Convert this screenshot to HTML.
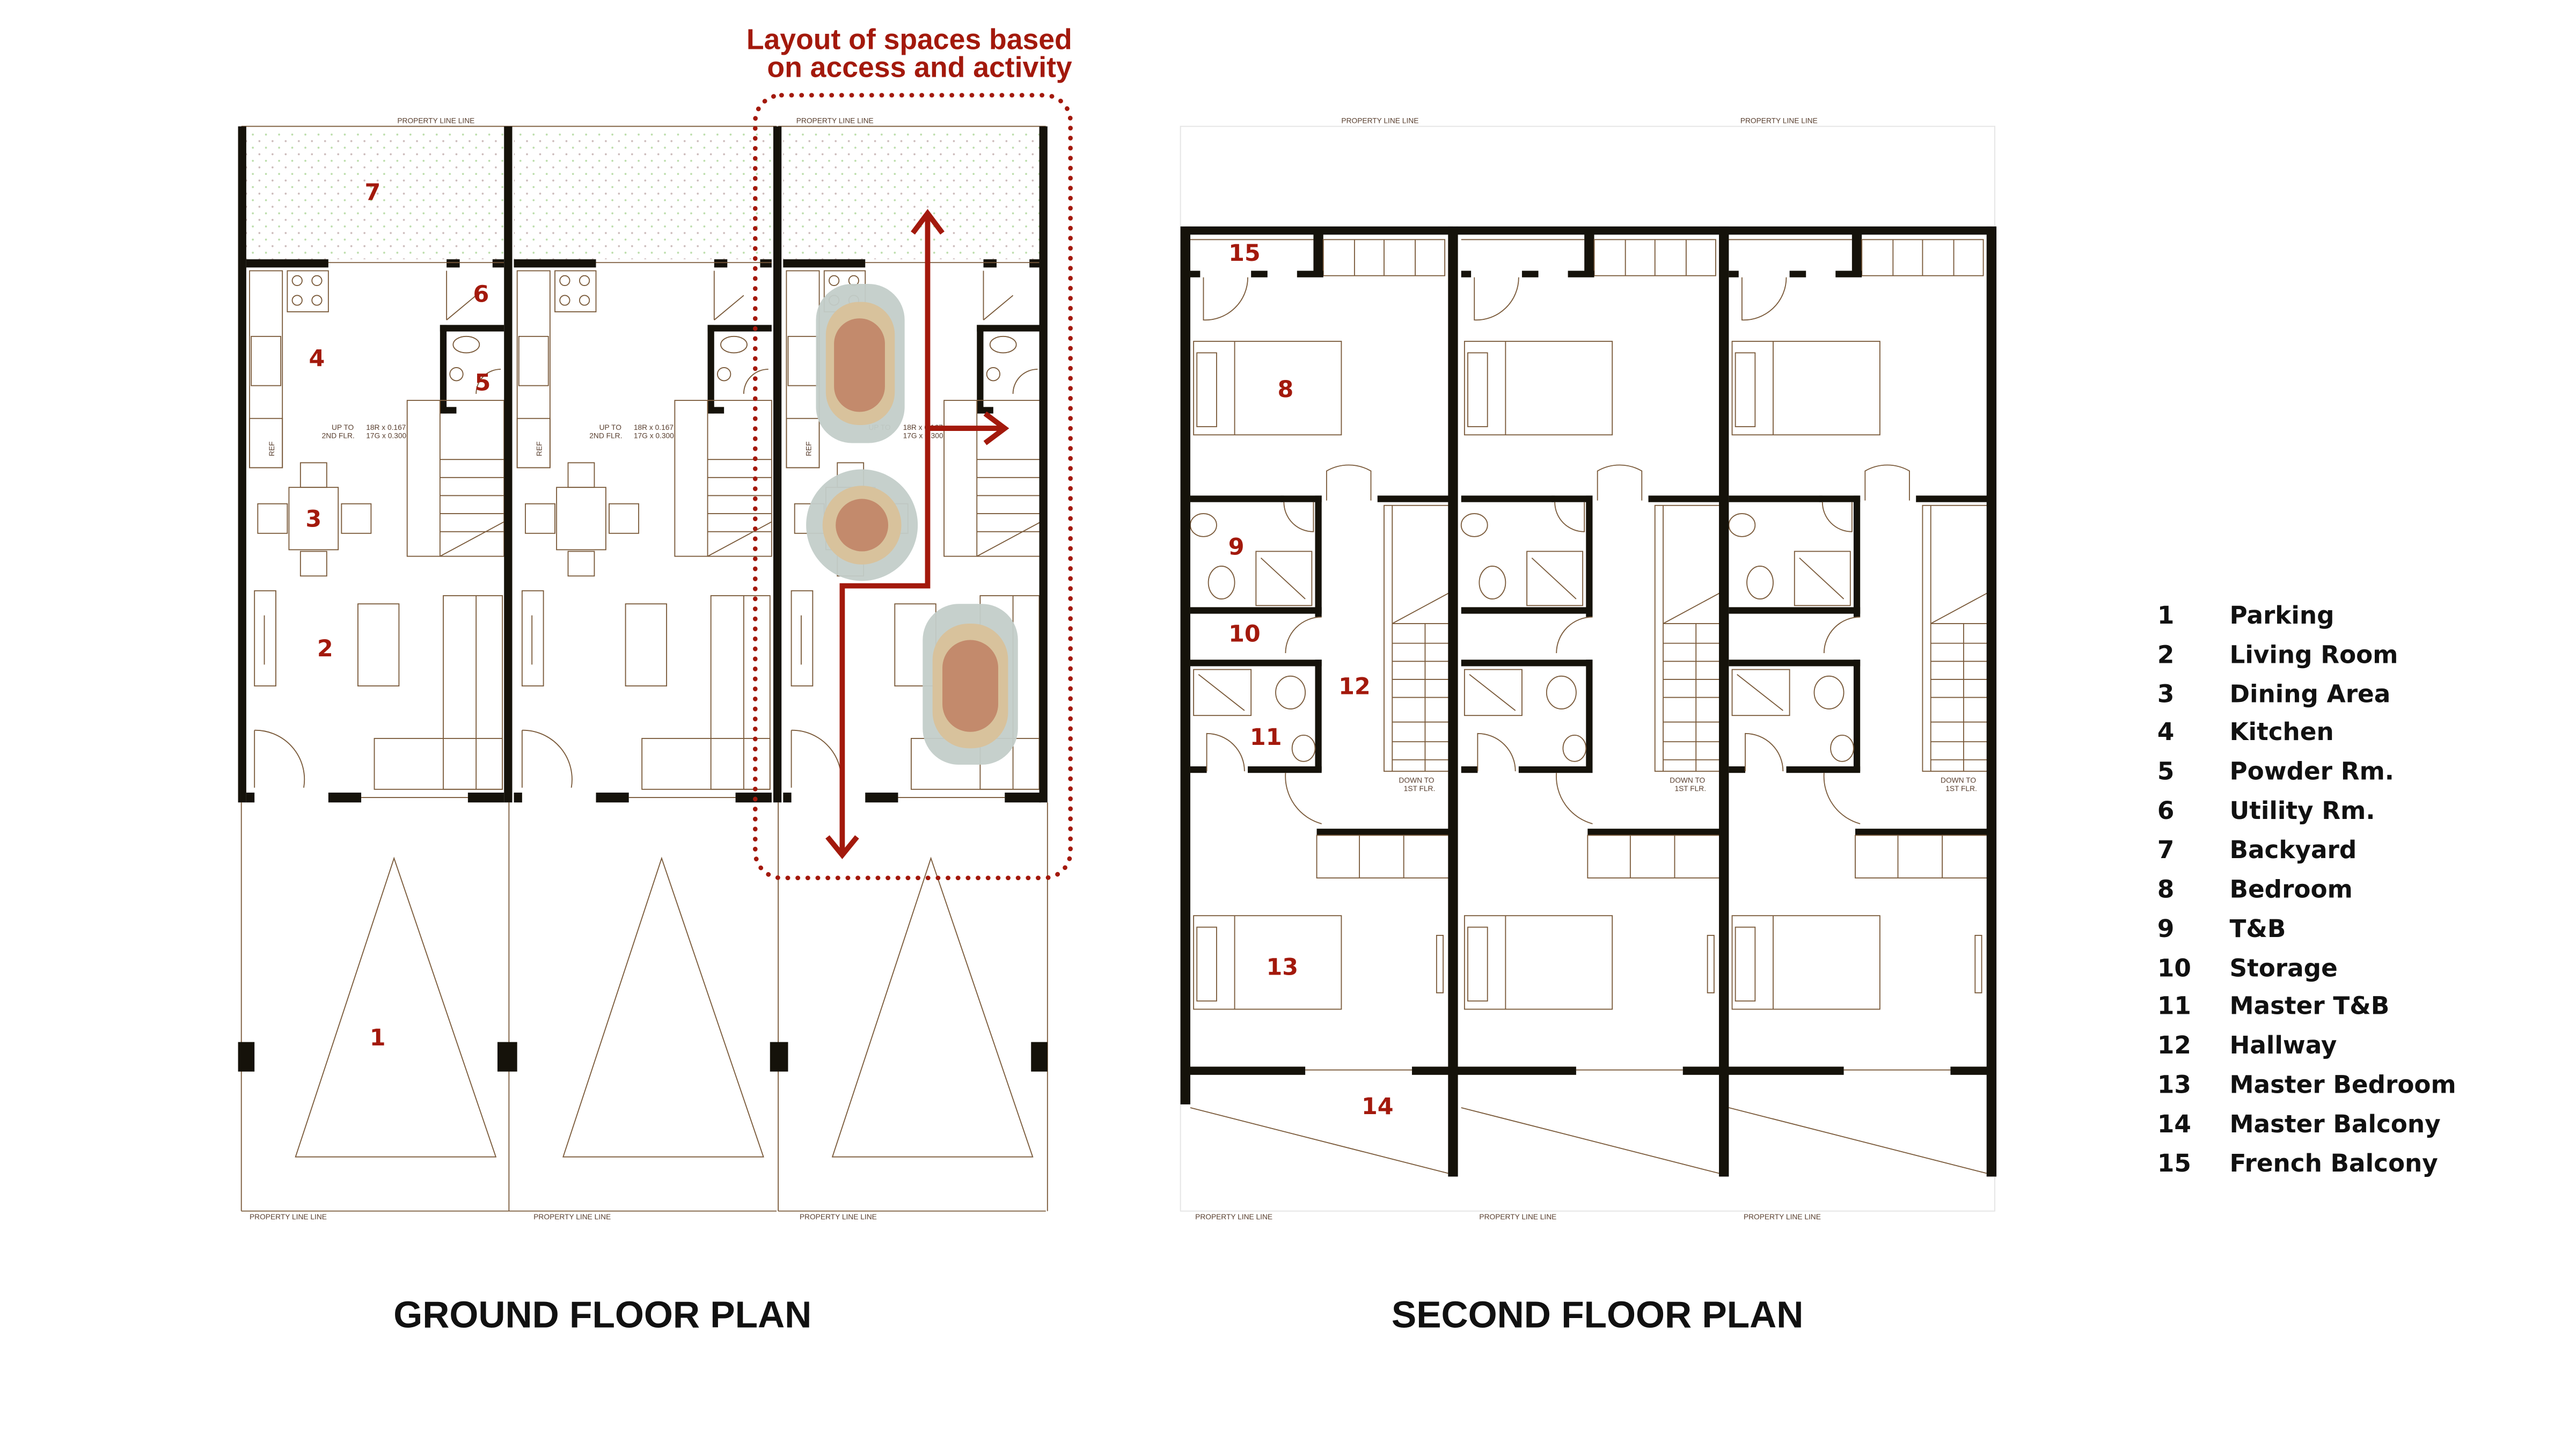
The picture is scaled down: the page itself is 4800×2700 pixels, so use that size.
<!DOCTYPE html>
<html><head><meta charset="utf-8"><style>
html,body{margin:0;padding:0;background:#fff;width:4800px;height:2700px;overflow:hidden}
svg{display:block}
.n{font-family:"DejaVu Sans","Liberation Sans",sans-serif;font-weight:bold;fill:#a3190c;font-size:14px;text-anchor:middle}
.lg{font-family:"DejaVu Sans","Liberation Sans",sans-serif;font-weight:bold;fill:#111;font-size:14.8px}
.t{font-family:"Liberation Sans",sans-serif;font-weight:bold;fill:#111;font-size:22.7px;text-anchor:middle}
.s{font-family:"Liberation Sans",sans-serif;fill:#5a4030;font-size:4.5px}
</style></head><body>
<svg width="4800" height="2700" viewBox="0 0 1569 883" preserveAspectRatio="none" xmlns="http://www.w3.org/2000/svg">
<defs>
<pattern id="dots" width="8" height="8" patternUnits="userSpaceOnUse"><circle cx="2" cy="2" r="0.6" fill="#bda"/><circle cx="6" cy="6" r="0.6" fill="#cbb"/></pattern>
<g id="gu" fill="none" stroke="#7a5a3a" stroke-width="0.6">
  <rect x="150" y="79" width="157" height="79" fill="url(#dots)" stroke="none"/>
  <line x1="147" y1="77" x2="310" y2="77"/>
  <rect x="150" y="158" width="50" height="5" fill="#15120a" stroke="none"/>
  <rect x="272" y="158" width="8" height="5" fill="#15120a" stroke="none"/>
  <rect x="300" y="158" width="7" height="5" fill="#15120a" stroke="none"/>
  <line x1="200" y1="160" x2="307" y2="160"/>
  <rect x="152" y="165" width="20" height="120"/>
  <rect x="175" y="165" width="25" height="25"/>
  <circle cx="181" cy="171" r="3"/><circle cx="193" cy="171" r="3"/><circle cx="181" cy="183" r="3"/><circle cx="193" cy="183" r="3"/>
  <rect x="153" y="205" width="18" height="30"/>
  <rect x="152" y="255" width="20" height="30"/>
  <rect x="268" y="198" width="39" height="4" fill="#15120a" stroke="none"/>
  <rect x="268" y="198" width="4" height="54" fill="#15120a" stroke="none"/>
  <rect x="268" y="248" width="10" height="4" fill="#15120a" stroke="none"/>
  <ellipse cx="284" cy="210" rx="8" ry="5"/>
  <circle cx="278" cy="228" r="4"/>
  <path d="M290 240 A15 15 0 0 1 305 225"/>
  <path d="M272 165 L272 195 M272 195 L290 180"/>
  <rect x="248" y="244" width="59" height="95"/>
  <line x1="268" y1="244" x2="268" y2="339"/>
  <line x1="268" y1="280" x2="307" y2="280"/><line x1="268" y1="291" x2="307" y2="291"/><line x1="268" y1="302" x2="307" y2="302"/><line x1="268" y1="313" x2="307" y2="313"/><line x1="268" y1="324" x2="307" y2="324"/>
  <line x1="268" y1="339" x2="307" y2="318"/>
  <rect x="176" y="297" width="30" height="38"/>
  <rect x="183" y="282" width="16" height="15"/><rect x="183" y="336" width="16" height="15"/>
  <rect x="157" y="307" width="18" height="18"/><rect x="208" y="307" width="18" height="18"/>
  <rect x="155" y="360" width="13" height="58"/>
  <line x1="161" y1="375" x2="161" y2="405"/>
  <rect x="218" y="368" width="25" height="50"/>
  <rect x="270" y="363" width="36" height="118"/>
  <rect x="228" y="450" width="78" height="31"/>
  <line x1="290" y1="363" x2="290" y2="481"/>
  <path d="M155 445 A30 30 0 0 1 185 480 M155 445 L155 480"/>
  <rect x="150" y="483" width="5" height="6" fill="#15120a" stroke="none"/>
  <rect x="200" y="483" width="20" height="6" fill="#15120a" stroke="none"/>
  <rect x="285" y="483" width="22" height="6" fill="#15120a" stroke="none"/>
  <line x1="220" y1="486" x2="285" y2="486"/>
  <line x1="147" y1="489" x2="147" y2="738"/>
  <line x1="147" y1="738" x2="310" y2="738"/>
  <polygon points="240,523 180,705 302,705"/>
</g>
<g id="su" fill="none" stroke="#7a5a3a" stroke-width="0.6">
  <rect x="722" y="138" width="163" height="5" fill="#15120a" stroke="none"/>
  <line x1="725" y1="146" x2="800" y2="146"/>
  <rect x="800" y="141" width="6" height="27" fill="#15120a" stroke="none"/>
  <rect x="806" y="146" width="74" height="22"/>
  <line x1="825" y1="146" x2="825" y2="168"/><line x1="843" y1="146" x2="843" y2="168"/><line x1="862" y1="146" x2="862" y2="168"/>
  <rect x="725" y="165" width="6" height="4" fill="#15120a" stroke="none"/>
  <rect x="762" y="165" width="10" height="4" fill="#15120a" stroke="none"/>
  <rect x="790" y="165" width="16" height="4" fill="#15120a" stroke="none"/>
  <path d="M733 169 L733 195 A26 26 0 0 0 760 169"/>
  <rect x="727" y="208" width="90" height="57"/><line x1="752" y1="208" x2="752" y2="265"/>
  <rect x="729" y="215" width="12" height="45"/>
  <rect x="725" y="302" width="57" height="4" fill="#15120a" stroke="none"/>
  <rect x="780" y="302" width="25" height="4" fill="#15120a" stroke="none"/>
  <rect x="839" y="302" width="46" height="4" fill="#15120a" stroke="none"/>
  <rect x="801" y="302" width="4" height="74" fill="#15120a" stroke="none"/>
  <rect x="725" y="370" width="80" height="4" fill="#15120a" stroke="none"/>
  <path d="M782 306 A18 18 0 0 0 800 324 L800 306"/>
  <ellipse cx="733" cy="320" rx="8" ry="7"/><ellipse cx="744" cy="355" rx="8" ry="10"/>
  <rect x="765" y="336" width="34" height="33"/><line x1="768" y1="340" x2="795" y2="365"/>
  <path d="M808 305 L808 287 A27 27 0 0 1 835 287 L835 305"/>
  <rect x="725" y="402" width="80" height="4" fill="#15120a" stroke="none"/>
  <rect x="801" y="402" width="4" height="68" fill="#15120a" stroke="none"/>
  <path d="M805 376 A22 22 0 0 0 783 398"/>
  <rect x="727" y="408" width="35" height="28"/><line x1="730" y1="411" x2="758" y2="433"/>
  <ellipse cx="786" cy="422" rx="9" ry="10"/><ellipse cx="794" cy="456" rx="7" ry="8"/>
  <rect x="725" y="467" width="10" height="4" fill="#15120a" stroke="none"/>
  <rect x="760" y="467" width="45" height="4" fill="#15120a" stroke="none"/>
  <path d="M735 470 L735 447 A23 23 0 0 1 758 470"/>
  <path d="M783 471 A30 30 0 0 0 805 502"/>
  <rect x="843" y="308" width="42" height="162"/>
  <line x1="848" y1="308" x2="848" y2="470"/>
  <path d="M848 380 L885 360 M848 380 L885 380 M868 380 L868 470"/>
  <line x1="848" y1="392" x2="885" y2="392"/><line x1="848" y1="403" x2="885" y2="403"/><line x1="848" y1="414" x2="885" y2="414"/><line x1="848" y1="425" x2="885" y2="425"/><line x1="848" y1="440" x2="885" y2="440"/><line x1="848" y1="452" x2="885" y2="452"/><line x1="848" y1="463" x2="885" y2="463"/>
  <rect x="802" y="505" width="83" height="4" fill="#15120a" stroke="none"/>
  <rect x="802" y="509" width="83" height="26"/><line x1="828" y1="509" x2="828" y2="535"/><line x1="855" y1="509" x2="855" y2="535"/>
  <rect x="727" y="558" width="90" height="57"/><line x1="752" y1="558" x2="752" y2="615"/>
  <rect x="729" y="565" width="12" height="45"/>
  <rect x="875" y="570" width="4" height="35"/>
  <rect x="722" y="650" width="73" height="5" fill="#15120a" stroke="none"/>
  <rect x="860" y="650" width="25" height="5" fill="#15120a" stroke="none"/>
  <line x1="795" y1="652" x2="860" y2="652"/>
  <line x1="725" y1="675" x2="882" y2="715"/>
</g>
</defs>

<!-- ground floor -->
<use href="#gu"/>
<use href="#gu" x="163"/>
<use href="#gu" x="327"/>
<line x1="638" y1="489" x2="638" y2="738" stroke="#7a5a3a" stroke-width="0.6"/>
<g fill="#15120a">
<rect x="145" y="77" width="5" height="412"/>
<rect x="307" y="77" width="5" height="412"/>
<rect x="471" y="77" width="5" height="412"/>
<rect x="633" y="77" width="5" height="412"/>
<rect x="145" y="635" width="10" height="18"/><rect x="303" y="635" width="12" height="18"/><rect x="469" y="635" width="11" height="18"/><rect x="628" y="635" width="10" height="18"/>
</g>
<text class="s" x="242" y="75">PROPERTY LINE LINE</text>
<text class="s" x="485" y="75">PROPERTY LINE LINE</text>
<text class="s" x="152" y="743">PROPERTY LINE LINE</text>
<text class="s" x="325" y="743">PROPERTY LINE LINE</text>
<text class="s" x="487" y="743">PROPERTY LINE LINE</text>
<text class="s" x="202" y="262">UP TO</text><text class="s" x="196" y="267">2ND FLR.</text><text class="s" x="223" y="262">18R x 0.167</text><text class="s" x="223" y="267">17G x 0.300</text>
<text class="s" x="365" y="262">UP TO</text><text class="s" x="359" y="267">2ND FLR.</text><text class="s" x="386" y="262">18R x 0.167</text><text class="s" x="386" y="267">17G x 0.300</text>
<text class="s" x="529" y="262">UP TO</text><text class="s" x="550" y="262">18R x 0.167</text><text class="s" x="550" y="267">17G x 0.300</text>
<text class="s" x="163" y="282" transform="rotate(-90 163 278)">REF</text>
<text class="s" x="326" y="282" transform="rotate(-90 326 278)">REF</text>
<text class="s" x="490" y="282" transform="rotate(-90 490 278)">REF</text>

<!-- bubbles -->
<rect x="497" y="173" width="54" height="97" rx="22" fill="#c3cdc9" opacity="0.95"/>
<rect x="503" y="184" width="42" height="75" rx="20" fill="#d8c29c"/>
<rect x="508" y="194" width="31" height="57" rx="15.5" fill="#c38a6c"/>
<circle cx="525" cy="320" r="34" fill="#c3cdc9" opacity="0.95"/>
<circle cx="525" cy="320" r="24" fill="#d8c29c"/>
<circle cx="525" cy="320" r="16" fill="#c38a6c"/>
<rect x="562" y="368" width="58" height="98" rx="22" fill="#c3cdc9" opacity="0.95"/>
<rect x="568" y="380" width="46" height="76" rx="22" fill="#d8c29c"/>
<rect x="574" y="390" width="34" height="56" rx="17" fill="#c38a6c"/>

<!-- arrows -->
<g stroke="#a3190c" stroke-width="3.2" fill="none">
<polyline points="565,132 565,357 513,357 513,520"/>
<polyline points="556,142 565,130 574,142"/>
<polyline points="504,510 513,521 522,510"/>
<line x1="565" y1="261" x2="611" y2="261"/>
<polyline points="600,252 612,261 600,270"/>
</g>
<rect x="460" y="58" width="192" height="477" rx="16" fill="none" stroke="#a3190c" stroke-width="2.8" stroke-dasharray="0.1 6" stroke-linecap="round"/>
<text x="653" y="30" font-family="Liberation Sans,sans-serif" font-weight="bold" font-size="17.5" fill="#a3190c" text-anchor="end">Layout of spaces based</text>
<text x="653" y="47" font-family="Liberation Sans,sans-serif" font-weight="bold" font-size="17.5" fill="#a3190c" text-anchor="end">on access and activity</text>

<text class="n" x="227" y="122">7</text>
<text class="n" x="293" y="184">6</text>
<text class="n" x="193" y="223">4</text>
<text class="n" x="294" y="238">5</text>
<text class="n" x="191" y="321">3</text>
<text class="n" x="198" y="400">2</text>
<text class="n" x="230" y="637">1</text>

<!-- second floor -->
<rect x="719" y="77" width="496" height="661" fill="none" stroke="#e4e4e4" stroke-width="0.6"/>
<use href="#su"/>
<use href="#su" x="165"/>
<use href="#su" x="328"/>
<g fill="#15120a">
<rect x="719" y="138" width="6" height="535"/>
<rect x="882" y="138" width="6" height="579"/>
<rect x="1047" y="138" width="6" height="579"/>
<rect x="1210" y="138" width="6" height="579"/>
</g>
<text class="s" x="817" y="75">PROPERTY LINE LINE</text>
<text class="s" x="1060" y="75">PROPERTY LINE LINE</text>
<text class="s" x="728" y="743">PROPERTY LINE LINE</text>
<text class="s" x="901" y="743">PROPERTY LINE LINE</text>
<text class="s" x="1062" y="743">PROPERTY LINE LINE</text>
<text class="s" x="852" y="477">DOWN TO</text><text class="s" x="855" y="482">1ST FLR.</text>
<text class="s" x="1017" y="477">DOWN TO</text><text class="s" x="1020" y="482">1ST FLR.</text>
<text class="s" x="1182" y="477">DOWN TO</text><text class="s" x="1185" y="482">1ST FLR.</text>

<text class="n" x="758" y="159">15</text>
<text class="n" x="783" y="242">8</text>
<text class="n" x="753" y="338">9</text>
<text class="n" x="758" y="391">10</text>
<text class="n" x="825" y="423">12</text>
<text class="n" x="771" y="454">11</text>
<text class="n" x="781" y="594">13</text>
<text class="n" x="839" y="679">14</text>

<!-- titles -->
<text class="t" x="367" y="809">GROUND FLOOR PLAN</text>
<text class="t" x="973" y="809">SECOND FLOOR PLAN</text>

<!-- legend -->
<g class="lg">
<text x="1314" y="380">1</text><text x="1358" y="380">Parking</text>
<text x="1314" y="404">2</text><text x="1358" y="404">Living Room</text>
<text x="1314" y="428">3</text><text x="1358" y="428">Dining Area</text>
<text x="1314" y="451">4</text><text x="1358" y="451">Kitchen</text>
<text x="1314" y="475">5</text><text x="1358" y="475">Powder Rm.</text>
<text x="1314" y="499">6</text><text x="1358" y="499">Utility Rm.</text>
<text x="1314" y="523">7</text><text x="1358" y="523">Backyard</text>
<text x="1314" y="547">8</text><text x="1358" y="547">Bedroom</text>
<text x="1314" y="571">9</text><text x="1358" y="571">T&amp;B</text>
<text x="1314" y="595">10</text><text x="1358" y="595">Storage</text>
<text x="1314" y="618">11</text><text x="1358" y="618">Master T&amp;B</text>
<text x="1314" y="642">12</text><text x="1358" y="642">Hallway</text>
<text x="1314" y="666">13</text><text x="1358" y="666">Master Bedroom</text>
<text x="1314" y="690">14</text><text x="1358" y="690">Master Balcony</text>
<text x="1314" y="714">15</text><text x="1358" y="714">French Balcony</text>
</g>
</svg>
</body></html>
